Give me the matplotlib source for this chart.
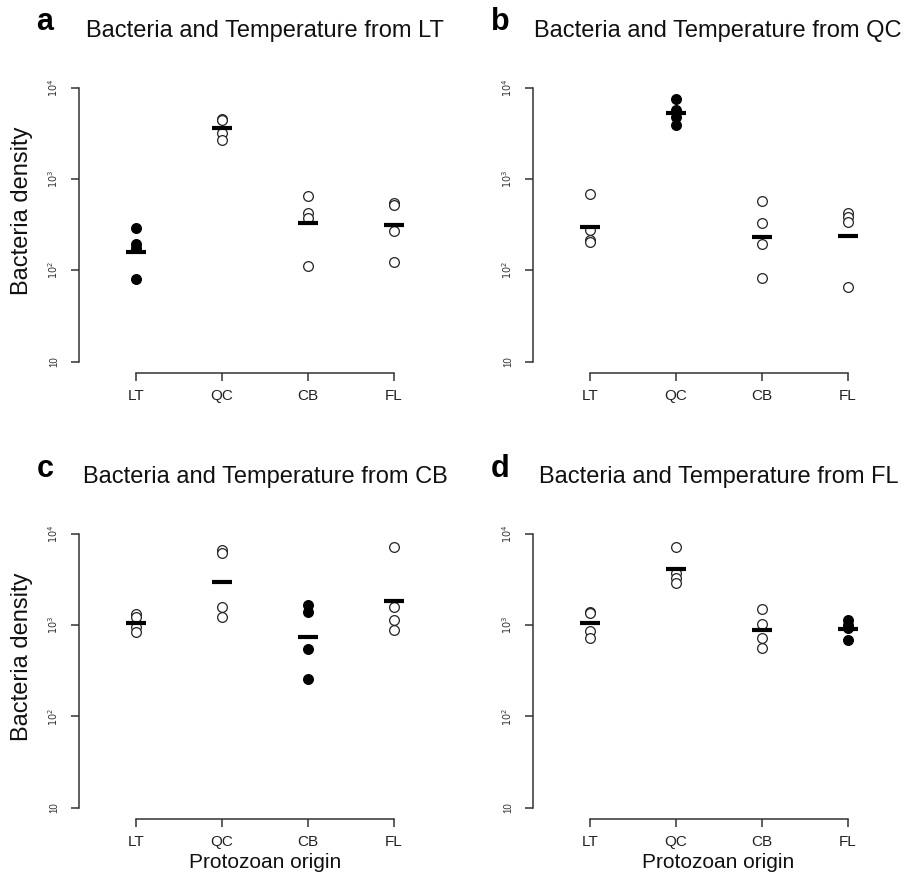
"""Four-panel strip chart: bacteria density by protozoan origin, one panel per bacteria/temperature source."""

import matplotlib
matplotlib.use("Agg")
import matplotlib.pyplot as plt

plt.rcParams["font.family"] = ["Liberation Sans", "DejaVu Sans"]

W, H = 907, 876

# Data
origins = ["LT", "QC", "CB", "FL"]
panel_letters = ["a", "b", "c", "d"]
panel_titles = [
    "Bacteria and Temperature from LT",
    "Bacteria and Temperature from QC",
    "Bacteria and Temperature from CB",
    "Bacteria and Temperature from FL",
]

# bacteria density per protozoan origin (LT, QC, CB, FL)
a_values = [[291, 193, 174, 80], [4540, 4450, 3160, 2670], [658, 421, 371, 113], [542, 520, 270, 124]]
a_means = [160, 3610, 327, 314]

b_values = [[680, 277, 215, 204], [7450, 5690, 4810, 3900], [574, 327, 193, 82], [421, 387, 341, 65]]
b_means = [301, 5240, 234, 240]

c_values = [[1318, 1245, 966, 851], [6680, 6250, 1600, 1245], [1672, 1413, 546, 256], [7260, 1600, 1144, 889]]
c_means = [1070, 3005, 752, 1862]

d_values = [[1413, 1352, 875, 721], [7260, 3710, 3270, 2885], [1496, 1035, 721, 560], [1144, 1008, 927, 691]]
d_means = [1052, 4140, 889, 920]

all_values = [a_values, b_values, c_values, d_values]
all_means = [a_means, b_means, c_means, d_means]
filled_group = [0, 1, 2, 3]  # the home origin is drawn with filled dots

# axes boxes in pixels: left, top, right, bottom
boxes = [
    (79.2, 76.7, 450.8, 372.7),
    (533.0, 76.7, 904.6, 372.7),
    (79.2, 523.0, 450.8, 818.7),
    (533.0, 523.0, 904.6, 818.7),
]


def px(x, y):
    return x / W, 1 - y / H


fig = plt.figure(figsize=(W / 100, H / 100), dpi=100)

for i in range(4):
    l, t, r, b = boxes[i]
    ax = fig.add_axes([l / W, 1 - b / H, (r - l) / W, (b - t) / H])
    ax.set_yscale("log")
    ax.set_xlim(0.34, 4.66)
    ax.set_ylim(10 ** 0.88, 10 ** 4.12)

    for j, vals in enumerate(all_values[i]):
        xs = [j + 1] * len(vals)
        if j == filled_group[i]:
            ax.plot(xs, vals, "o", ms=7, mfc="black", mec="black", mew=0.9, ls="none")
        else:
            ax.plot(xs, vals, "o", ms=7, mfc="white", mec="#222222", mew=0.9, ls="none")
        ax.hlines(all_means[i][j], j + 1 - 0.115, j + 1 + 0.115, colors="black", lw=3)

    for s in ["top", "right"]:
        ax.spines[s].set_visible(False)
    ax.spines["left"].set_bounds(10, 1e4)
    ax.spines["bottom"].set_bounds(1, 4)
    for s in ["left", "bottom"]:
        ax.spines[s].set_linewidth(1.1)
        ax.spines[s].set_color("#333333")

    ax.set_yticks([10, 100, 1000, 10000])
    ax.set_yticklabels(["10", r"$10^2$", r"$10^3$", r"$10^4$"], rotation=90, va="center",
                       fontsize=7, color="#333333")
    ax.minorticks_off()
    ax.set_xticks([1, 2, 3, 4])
    ax.set_xticklabels(origins, fontsize=11, color="#222222")
    ax.tick_params(axis="both", direction="out", length=6, width=1.1, color="#333333")
    ax.tick_params(axis="x", pad=6)
    ax.tick_params(axis="y", pad=8)
    ax.set_facecolor("none")

# panel titles and letters
title_pos = [(265, 37), (718, 37), (265, 483), (718.5, 483)]
letter_pos = [(45, 30), (500, 30), (45, 477), (500, 477)]
for i in range(4):
    fig.text(*px(*title_pos[i]), panel_titles[i], ha="center", va="baseline", fontsize=17, color="#111111")
    fig.text(*px(*letter_pos[i]), panel_letters[i], ha="center", va="baseline", fontsize=22, fontweight="bold")

# axis labels
for y in [211, 657]:
    fig.text(*px(22, y), "Bacteria density", rotation=90, ha="center", va="center", fontsize=17, color="#111111")
for x in [265, 718.5]:
    fig.text(*px(x, 863), "Protozoan origin", ha="center", va="center", fontsize=15, color="#111111")

fig.savefig("out.png", dpi=100)
